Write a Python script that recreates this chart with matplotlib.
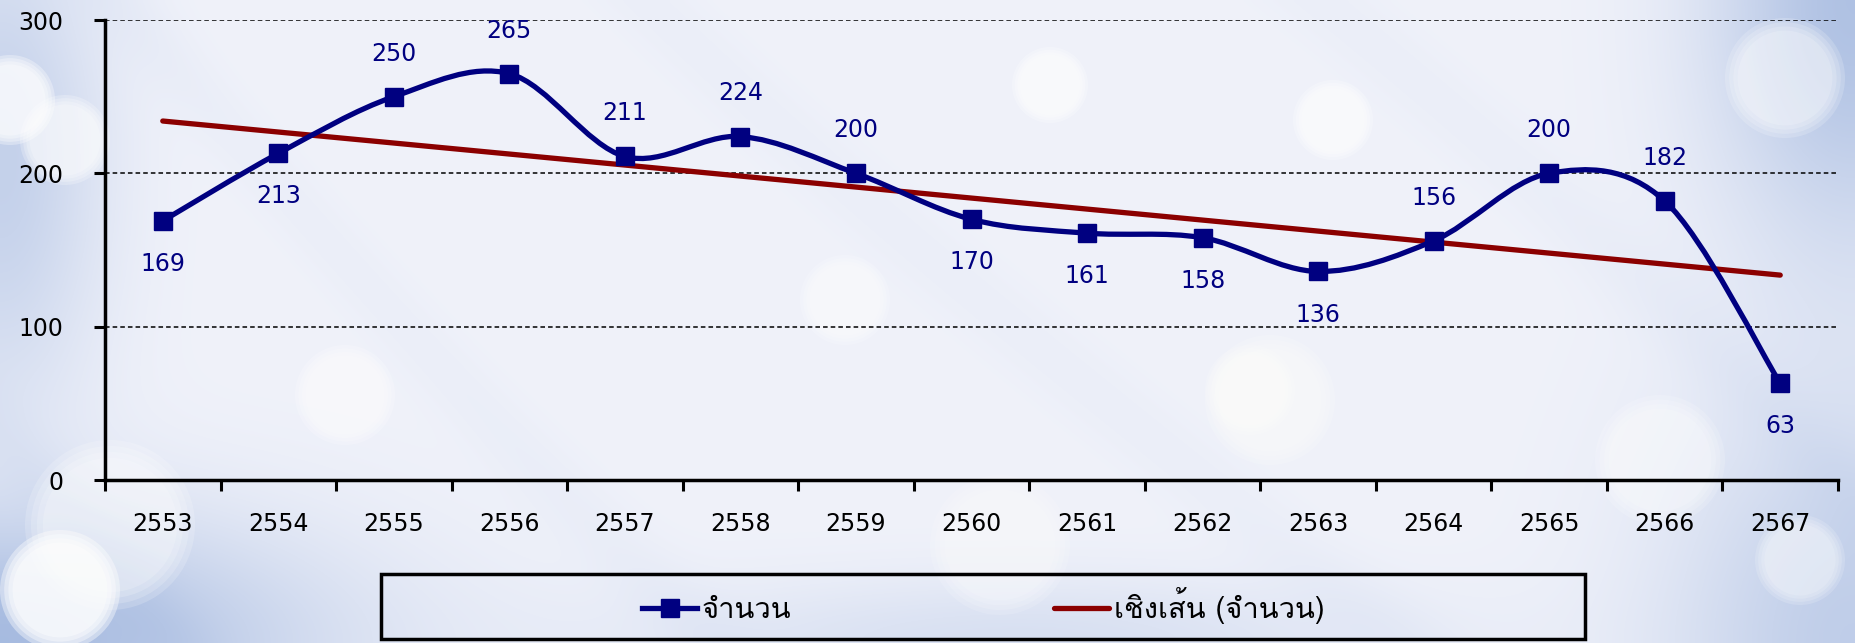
import numpy as np
import matplotlib
matplotlib.use('Agg')
import matplotlib.pyplot as plt
from matplotlib import font_manager
from matplotlib.path import Path
from matplotlib.patches import PathPatch, Circle, Rectangle
from matplotlib.lines import Line2D

years = ['2553', '2554', '2555', '2556', '2557', '2558', '2559', '2560',
         '2561', '2562', '2563', '2564', '2565', '2566', '2567']
counts = [169, 213, 250, 265, 211, 224, 200, 170, 161, 158, 136, 156, 200, 182, 63]
label_side = ['below', 'below', 'above', 'above', 'above', 'above', 'above', 'below',
              'below', 'below', 'below', 'above', 'above', 'above', 'below']
yticks = [0, 100, 200, 300]
series_name = 'จำนวน'
trend_name = 'เชิงเส้น (จำนวน)'

NAVY = '#000080'
DARKRED = '#8B0000'

W, H = 1855, 643

## a font with Thai glyphs (Loma in this setup)
names = {f.name for f in font_manager.fontManager.ttflist}
thai_family = next((n for n in ['Loma', 'Garuda', 'Norasi', 'Noto Sans Thai', 'Waree', 'Tlwg Typo']
                    if n in names), 'DejaVu Sans')

plt.rcParams['font.family'] = ['DejaVu Sans']

fig = plt.figure(figsize=(W / 100, H / 100), dpi=100)

#========================
## background: soft blue gradient with bokeh spots
bg = fig.add_axes([0, 0, 1, 1])
bg.set_axis_off()
h, w = 200, 580
yy, xx = np.mgrid[0:h, 0:w]
u = xx / (w - 1)
v = yy / (h - 1)
base = np.array([240, 242, 250]) / 255.0
blue = np.array([160, 182, 222]) / 255.0
wgt = (np.exp(-((u - 1.0) ** 2 / 0.006 + (v - 0.0) ** 2 / 0.15)) * 0.8
       + np.exp(-((u - 0.0) ** 2 / 0.003 + (v - 0.25) ** 2 / 0.15)) * 0.55
       + np.exp(-((u - 0.0) ** 2 / 0.03 + (v - 1.0) ** 2 / 0.04)) * 0.9
       + np.exp(-((u - 1.0) ** 2 / 0.01 + (v - 1.0) ** 2 / 0.15)) * 0.6
       + np.exp(-((u - 0.55) ** 2 / 0.04 + (v - 1.0) ** 2 / 0.01)) * 0.3)
## faint diagonal streaks
wgt += 0.06 * np.clip(np.sin((u * 2.9 - v) * 7.0 + 0.8 * np.sin(u * 5)), 0, 1) ** 6
wgt = np.clip(wgt, 0, 1)
img = base[None, None, :] * (1 - wgt[..., None]) + blue[None, None, :] * wgt[..., None]
bg.imshow(img, extent=[0, 1, 0, 1], aspect='auto', origin='upper', interpolation='bicubic')
bg.set_xlim(0, 1)
bg.set_ylim(0, 1)

## soft bokeh circles, given in pixels from the top-left corner
for cx, cy, r, a in [(60, 590, 60, 1.0), (110, 525, 85, 0.45), (10, 100, 45, 0.8),
                     (65, 140, 45, 0.6), (345, 395, 50, 0.5), (1050, 85, 38, 0.6),
                     (1333, 120, 40, 0.6), (1270, 400, 65, 0.4), (1660, 460, 65, 0.4),
                     (1785, 78, 60, 0.45), (1250, 390, 45, 0.4), (1000, 545, 70, 0.35),
                     (845, 300, 45, 0.45), (1800, 560, 45, 0.4)]:
    for f in [1.0, 0.93, 0.86, 0.79]:
        bg.add_patch(Circle((cx / 100, (H - cy) / 100), r * f / 100, transform=fig.dpi_scale_trans,
                            color='white', alpha=min(a / 2.5, 1), lw=0))

#========================
ax = fig.add_axes([105 / W, 1 - 480 / H, (1838 - 105) / W, (480 - 20) / H])
ax.patch.set_alpha(0)

x = np.arange(1, len(counts) + 1)
y = np.array(counts, dtype=float)

## Excel-style smoothed line (Catmull-Rom as cubic Bezier)
pts = np.column_stack([x, y])
ext = np.vstack([pts[0], pts, pts[-1]])
verts = [tuple(pts[0])]
codes = [Path.MOVETO]
for i in range(len(pts) - 1):
    p0, p1, p2, p3 = ext[i], ext[i + 1], ext[i + 2], ext[i + 3]
    c1 = p1 + (p2 - p0) / 6.0
    c2 = p2 - (p3 - p1) / 6.0
    verts += [tuple(c1), tuple(c2), tuple(p2)]
    codes += [Path.CURVE4] * 3
ax.add_patch(PathPatch(Path(verts, codes), facecolor='none', edgecolor=NAVY, lw=3.8,
                       capstyle='round', joinstyle='round', zorder=3))
ax.plot(x, y, ls='none', marker='s', ms=12.5, color=NAVY, zorder=4)

## linear trend
k, b = np.polyfit(x, y, 1)
ax.plot(x, k * x + b, color=DARKRED, lw=3.8, solid_capstyle='round', zorder=2)

## data labels
for xi, yi, side in zip(x, counts, label_side):
    dy = 31 if side == 'above' else -31
    ax.annotate(str(yi), (xi, yi), xytext=(0, dy), textcoords='offset points',
                ha='center', va='center', fontsize=17, color=NAVY, zorder=5)

#========================
## axes
ax.set_xlim(0.5, len(counts) + 0.5)
ax.set_ylim(0, 300)
ax.set_yticks(yticks)
ax.set_yticklabels([str(t) for t in yticks], fontsize=17)
ax.set_xticks(np.arange(0.5, len(counts) + 1, 1.0))
ax.set_xticklabels([])
ax.set_xticks(x, minor=True)
ax.set_xticklabels(years, minor=True, fontsize=17)
ax.tick_params(axis='x', which='minor', length=0, pad=23)
ax.tick_params(axis='x', which='major', length=8, width=2.2, direction='out')
ax.tick_params(axis='y', length=8, width=2.2, direction='out', pad=22)
for t in yticks[1:]:
    ax.axhline(t, color='black', ls=(0, (3, 2)), lw=1.1, zorder=1)
for s in ['top', 'right']:
    ax.spines[s].set_visible(False)
for s in ['left', 'bottom']:
    ax.spines[s].set_linewidth(2.5)
ax.spines['bottom'].set_zorder(6)

#========================
## legend in a black box
fig.patches.append(Rectangle((381 / W, 1 - 639 / H), (1585 - 381) / W, (639 - 574) / H,
                             transform=fig.transFigure, fill=False, edgecolor='black', lw=2.5))
handles = [Line2D([], [], color=NAVY, lw=3.8, marker='s', ms=12.5),
           Line2D([], [], color=DARKRED, lw=3.8, solid_capstyle='round')]
leg = fig.legend(handles, [series_name, trend_name], ncol=2, loc='center',
                 bbox_to_anchor=(983 / W, 1 - 606 / H), frameon=False,
                 handlelength=1.9, handletextpad=0.15, columnspacing=9.0,
                 prop={'family': [thai_family, 'DejaVu Sans'], 'size': 21})

fig.savefig('out.png', dpi=100)
